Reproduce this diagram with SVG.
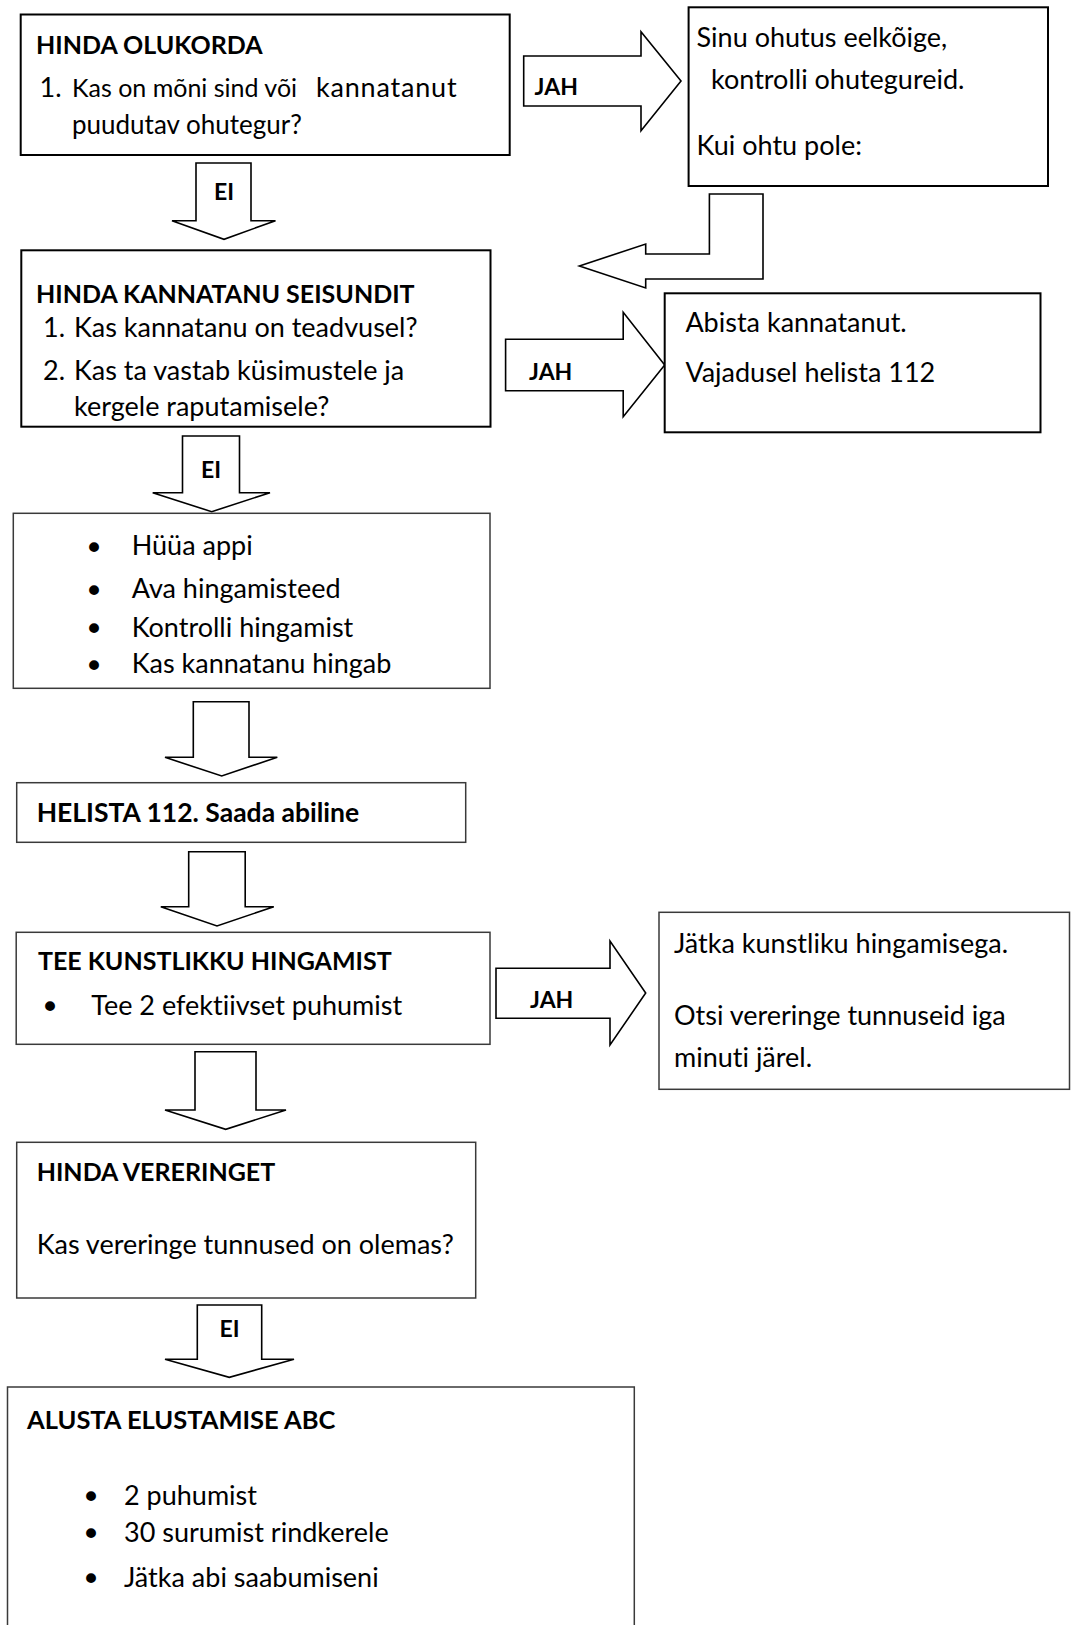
<svg xmlns="http://www.w3.org/2000/svg" width="1071" height="1625" viewBox="0 0 1071 1625">
<style>
.bx{fill:#fff;stroke:#000;stroke-width:2}
.bg{fill:#fff;stroke:#3a3a3a;stroke-width:1.5}
.ar{fill:#fff;stroke:#000;stroke-width:1.6;stroke-linejoin:miter}
text{font-family:Lato,"Liberation Sans",sans-serif;font-size:27px;fill:#000;font-variant-ligatures:none;font-feature-settings:"liga" 0}
.h{font-weight:bold;font-size:25px}
.lb{font-weight:bold;font-size:23px}
.bu{font-family:"DejaVu Sans",sans-serif;font-size:34px}
</style>
<rect width="1071" height="1625" fill="#fff"/>
<g id="connectors">
  <polygon class="ar" points="196,163 251,163 251,220.7 275.5,220.7 224,239.3 172,220.7 196,220.7"/>
  <text class="lb" x="224" y="200" text-anchor="middle">EI</text>
  <polygon class="ar" points="523.7,56 641,56 641,31.7 681,81 641,130.7 641,106 523.7,106"/>
  <text class="lb" x="534.6" y="95">JAH</text>
  <polygon class="ar" points="709.4,194 763,194 763,279 645.7,279 645.7,288 579.4,266 645.7,244 645.7,254 709.4,254"/>
  <polygon class="ar" points="505.6,339.3 623.2,339.3 623.2,312.3 664.7,365 623.2,416.7 623.2,390.7 505.6,390.7"/>
  <text class="lb" x="529" y="380">JAH</text>
  <polygon class="ar" points="182.5,436 239.5,436 239.5,492.7 270,492.7 211.7,511.7 152.7,492.7 182.5,492.7"/>
  <text class="lb" x="211" y="478" text-anchor="middle">EI</text>
  <polygon class="ar" points="193.3,701.7 249,701.7 249,757.3 277.3,757.3 221.7,776 165,757.3 193.3,757.3"/>
  <polygon class="ar" points="188.7,851.7 245.2,851.7 245.2,906.7 273.8,906.7 217,926 160.8,906.7 188.7,906.7"/>
  <polygon class="ar" points="496,968.3 610,968.3 610,941 645.7,993 610,1045 610,1018.3 496,1018.3"/>
  <text class="lb" x="530" y="1008">JAH</text>
  <polygon class="ar" points="195,1051.7 256,1051.7 256,1110 286,1110 225.7,1129.3 165,1110 195,1110"/>
  <polygon class="ar" points="197.3,1305 261.7,1305 261.7,1359.3 294,1359.3 229.3,1377.3 165,1359.3 197.3,1359.3"/>
  <text class="lb" x="229.5" y="1337" text-anchor="middle">EI</text>
</g>
<g id="hinda-olukorda">
  <rect class="bx" x="20.7" y="14.5" width="489" height="140.5"/>
  <text class="h" x="36" y="53.5">HINDA OLUKORDA</text>
  <text x="39.6" y="97">1.</text>
  <text x="72" y="97" style="font-size:25px">Kas on mõni sind või</text>
  <text x="316" y="97" style="letter-spacing:0.8px">kannatanut</text>
  <text x="72" y="134" style="font-size:26px">puudutav ohutegur?</text>
</g>
<g id="sinu-ohutus">
  <rect class="bx" x="688.6" y="7.3" width="359.4" height="178.7"/>
  <text x="696.6" y="47">Sinu ohutus eelkõige,</text>
  <text x="711" y="89">kontrolli ohutegureid.</text>
  <text x="696.6" y="155">Kui ohtu pole:</text>
</g>
<g id="hinda-kannatanu">
  <rect class="bx" x="21.3" y="250.3" width="469.2" height="176.4"/>
  <text class="h" x="36" y="303.3">HINDA KANNATANU SEISUNDIT</text>
  <text x="43" y="337">1.</text>
  <text x="74" y="337">Kas kannatanu on teadvusel?</text>
  <text x="43" y="380">2.</text>
  <text x="74" y="380">Kas ta vastab küsimustele ja</text>
  <text x="74" y="416">kergele raputamisele?</text>
</g>
<g id="abista">
  <rect class="bx" x="664.7" y="293.3" width="375.8" height="139"/>
  <text x="685.4" y="332">Abista kannatanut.</text>
  <text x="685.4" y="382">Vajadusel helista 112</text>
</g>
<g id="huua-appi">
  <rect class="bg" x="13.3" y="513.3" width="476.7" height="175"/>
  <text class="bu" x="94" y="559.5" text-anchor="middle">•</text>
  <text x="131.7" y="555.3">Hüüa appi</text>
  <text class="bu" x="94" y="602.5" text-anchor="middle">•</text>
  <text x="131.7" y="598.3">Ava hingamisteed</text>
  <text class="bu" x="94" y="641" text-anchor="middle">•</text>
  <text x="131.7" y="636.7">Kontrolli hingamist</text>
  <text class="bu" x="94" y="677.5" text-anchor="middle">•</text>
  <text x="131.7" y="673.3">Kas kannatanu hingab</text>
</g>
<g id="helista">
  <rect class="bg" x="16.7" y="782.7" width="449" height="59.6"/>
  <text class="h" x="36.7" y="822" style="font-size:26.5px">HELISTA 112. Saada abiline</text>
</g>
<g id="kunstlik-hingamine">
  <rect class="bg" x="16.2" y="932.3" width="473.8" height="112"/>
  <text class="h" x="37.9" y="970">TEE KUNSTLIKKU HINGAMIST</text>
  <text class="bu" x="50" y="1019.2" text-anchor="middle">•</text>
  <text x="91.3" y="1015">Tee 2 efektiivset puhumist</text>
</g>
<g id="jatka-hingamisega">
  <rect class="bg" x="659" y="912.3" width="410.5" height="177"/>
  <text x="674" y="953">Jätka kunstliku hingamisega.</text>
  <text x="674" y="1025">Otsi vereringe tunnuseid iga</text>
  <text x="674" y="1067">minuti järel.</text>
</g>
<g id="hinda-vereringet">
  <rect class="bg" x="16.7" y="1142.3" width="459" height="155.7"/>
  <text class="h" x="36.7" y="1181">HINDA VERERINGET</text>
  <text x="36.7" y="1254">Kas vereringe tunnused on olemas?</text>
</g>
<g id="alusta-elustamist">
  <rect class="bg" x="7.5" y="1387" width="626.8" height="245"/>
  <text class="h" x="27" y="1429" style="font-size:25.5px">ALUSTA ELUSTAMISE ABC</text>
  <text class="bu" x="91" y="1509.2" text-anchor="middle">•</text>
  <text x="124" y="1505">2 puhumist</text>
  <text class="bu" x="91" y="1546.2" text-anchor="middle">•</text>
  <text x="124" y="1542">30 surumist rindkerele</text>
  <text class="bu" x="91" y="1591.2" text-anchor="middle">•</text>
  <text x="124" y="1587">Jätka abi saabumiseni</text>
</g>
</svg>
